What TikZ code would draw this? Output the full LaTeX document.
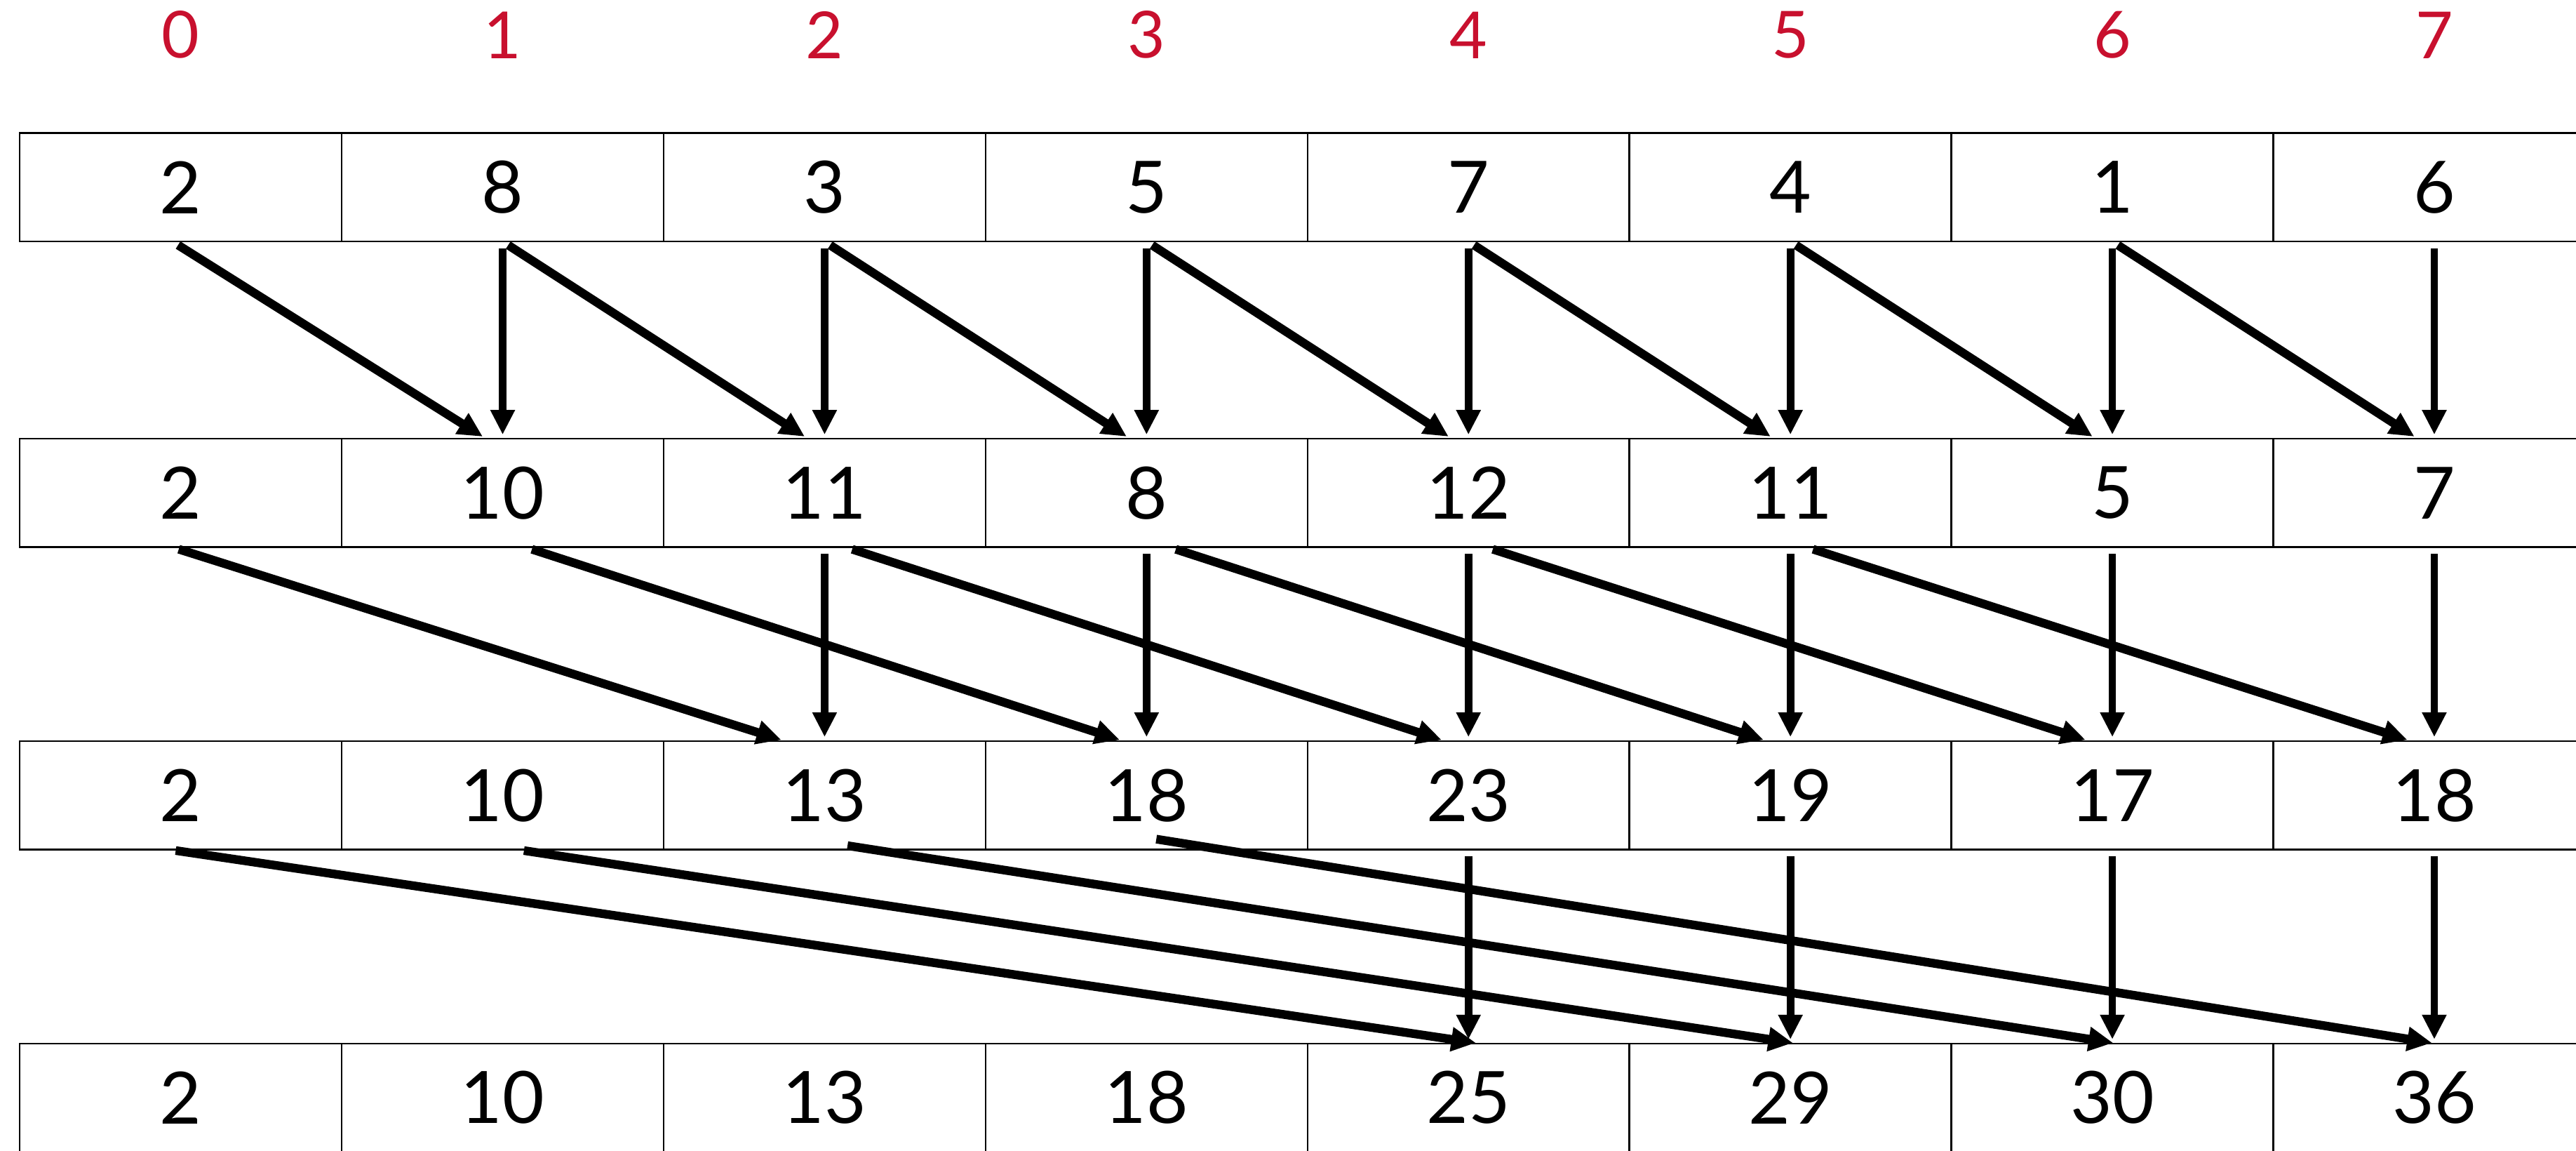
\documentclass[tikz,border=0pt]{standalone}
\usepackage{fontspec}
\setmainfont{Lato}
\usepackage{tikz}
\usetikzlibrary{positioning,arrows.meta}
\usepackage{xcolor}
\definecolor{idxred}{RGB}{200,16,46}

\begin{document}
\begin{tikzpicture}[x=0.02cm,y=0.02cm,
  cell/.style={draw,line width=0.6pt,minimum width=3.92cm,minimum height=1.32cm,
    inner sep=0pt,outer sep=0pt,font=\fontsize{25}{30}\selectfont},
  idx/.style={text=idxred,inner sep=0pt,font=\fontsize{22.5}{27}\selectfont},
  down/.style={-{Triangle[length=0.3cm,width=0.28cm]},line width=2.6pt,
    shorten <=0.08cm,shorten >=0.05cm},
  hop/.style={-{Triangle[length=0.3cm,width=0.28cm]},line width=3pt,
    shorten <=0.08cm,shorten >=0.05cm}]
  \useasboundingbox (0,0) rectangle (1568,700);

  % input array
  \node[cell] (A0) at (110,586) {2};
  \node[cell,right=0pt of A0] (A1) {8};
  \node[cell,right=0pt of A1] (A2) {3};
  \node[cell,right=0pt of A2] (A3) {5};
  \node[cell,right=0pt of A3] (A4) {7};
  \node[cell,right=0pt of A4] (A5) {4};
  \node[cell,right=0pt of A5] (A6) {1};
  \node[cell,right=0pt of A6] (A7) {6};

  % indices
  \node[idx,above=0.9cm of A0] (I0) {0};
  \node[idx,above=0.9cm of A1] (I1) {1};
  \node[idx,above=0.9cm of A2] (I2) {2};
  \node[idx,above=0.9cm of A3] (I3) {3};
  \node[idx,above=0.9cm of A4] (I4) {4};
  \node[idx,above=0.9cm of A5] (I5) {5};
  \node[idx,above=0.9cm of A6] (I6) {6};
  \node[idx,above=0.9cm of A7] (I7) {7};

  % after offset 1
  \node[cell,below=2.4cm of A0] (B0) {2};
  \node[cell,right=0pt of B0] (B1) {10};
  \node[cell,right=0pt of B1] (B2) {11};
  \node[cell,right=0pt of B2] (B3) {8};
  \node[cell,right=0pt of B3] (B4) {12};
  \node[cell,right=0pt of B4] (B5) {11};
  \node[cell,right=0pt of B5] (B6) {5};
  \node[cell,right=0pt of B6] (B7) {7};

  % after offset 2
  \node[cell,below=2.36cm of B0] (C0) {2};
  \node[cell,right=0pt of C0] (C1) {10};
  \node[cell,right=0pt of C1] (C2) {13};
  \node[cell,right=0pt of C2] (C3) {18};
  \node[cell,right=0pt of C3] (C4) {23};
  \node[cell,right=0pt of C4] (C5) {19};
  \node[cell,right=0pt of C5] (C6) {17};
  \node[cell,right=0pt of C6] (C7) {18};

  % after offset 4
  \node[cell,below=2.36cm of C0] (D0) {2};
  \node[cell,right=0pt of D0] (D1) {10};
  \node[cell,right=0pt of D1] (D2) {13};
  \node[cell,right=0pt of D2] (D3) {18};
  \node[cell,right=0pt of D3] (D4) {25};
  \node[cell,right=0pt of D4] (D5) {29};
  \node[cell,right=0pt of D5] (D6) {30};
  \node[cell,right=0pt of D6] (D7) {36};

  % step 1
  \path[down]
    (A1) edge (B1)
    (A2) edge (B2)
    (A3) edge (B3)
    (A4) edge (B4)
    (A5) edge (B5)
    (A6) edge (B6)
    (A7) edge (B7);
  \path[hop]
    ([xshift=-0.1cm]A0.south) edge ([xshift=-0.2cm]B1.north)
    (A1.south) edge ([xshift=-0.2cm]B2.north)
    (A2.south) edge ([xshift=-0.2cm]B3.north)
    (A3.south) edge ([xshift=-0.2cm]B4.north)
    (A4.south) edge ([xshift=-0.2cm]B5.north)
    (A5.south) edge ([xshift=-0.2cm]B6.north)
    (A6.south) edge ([xshift=-0.2cm]B7.north);

  % step 2
  \path[down]
    (B2) edge (C2)
    (B3) edge (C3)
    (B4) edge (C4)
    (B5) edge (C5)
    (B6) edge (C6)
    (B7) edge (C7);
  \path[hop]
    ([xshift=-0.1cm]B0.south) edge ([xshift=-0.48cm]C2.north)
    ([xshift=0.28cm]B1.south) edge ([xshift=-0.28cm]C3.north)
    ([xshift=0.26cm]B2.south) edge ([xshift=-0.28cm]C4.north)
    ([xshift=0.28cm]B3.south) edge ([xshift=-0.28cm]C5.north)
    ([xshift=0.22cm]B4.south) edge ([xshift=-0.28cm]C6.north)
    ([xshift=0.2cm]B5.south) edge ([xshift=-0.28cm]C7.north);

  % step 3
  \path[down]
    (C4) edge (D4)
    (C5) edge (D5)
    (C6) edge (D6)
    (C7) edge (D7);
  \path[hop]
    ([xshift=-0.14cm]C0.south) edge ([xshift=0.14cm]D4.north)
    ([xshift=0.18cm]C1.south) edge ([xshift=0.08cm]D5.north)
    ([xshift=0.2cm,yshift=0.06cm]C2.south) edge ([xshift=0.06cm]D6.north)
    ([xshift=0.04cm,yshift=0.14cm]C3.south) edge ([xshift=0.02cm]D7.north);
\end{tikzpicture}
\end{document}
